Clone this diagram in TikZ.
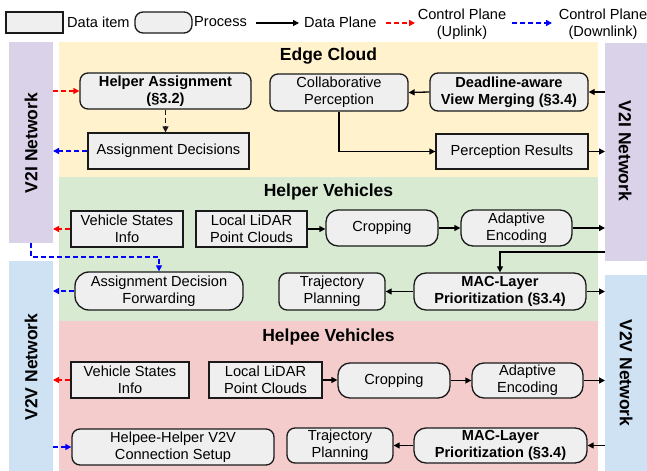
\documentclass[tikz,border=0pt]{standalone}
\usepackage{fontspec}
\setmainfont{Liberation Sans}
\usetikzlibrary{arrows.meta}
\definecolor{bandY}{HTML}{FFF2CC}
\definecolor{bandG}{HTML}{D9EAD3}
\definecolor{bandP}{HTML}{F4CCCC}
\definecolor{stripL}{HTML}{D9D2E9}
\definecolor{stripB}{HTML}{CFE2F3}
\definecolor{nodefill}{HTML}{EFEFEF}
\definecolor{edgec}{HTML}{1A1A1A}
\tikzset{
  base/.style={draw=edgec, line width=1.3bp, fill=nodefill, align=center, inner sep=0pt,
    font=\fontsize{14.6bp}{17bp}\selectfont},
  dbox/.style={base, rectangle},
  pbox/.style={base, rectangle, rounded corners=8bp},
  bproc/.style={pbox, font=\fontsize{14.6bp}{17bp}\selectfont\bfseries},
  txt/.style={inner sep=0pt, align=center, font=\fontsize{14.6bp}{17bp}\selectfont},
  title/.style={inner sep=0pt, font=\fontsize{17.5bp}{20bp}\selectfont\bfseries},
  data/.style={line width=1.3bp, draw=black, -{Triangle[length=6bp,width=6bp]}},
  up/.style={line width=1.3bp, draw=red, dash pattern=on 5bp off 3bp, -{Triangle[length=6bp,width=6bp]}},
  down/.style={line width=1.3bp, draw=blue, dash pattern=on 5bp off 3bp, -{Triangle[length=6bp,width=6bp]}},
  ctrl/.style={line width=1.3bp, draw=edgec, dash pattern=on 5bp off 3bp, -{Triangle[length=6bp,width=6bp]}},
}
\begin{document}
\begin{tikzpicture}[x=1bp,y=-1bp]
\useasboundingbox (0,0) rectangle (647,471);
\fill[white] (0,0) rectangle (647,471);
% bands
\fill[bandY] (59,42) rectangle (598,177);
\fill[bandG] (59,177) rectangle (598,321);
\fill[bandP] (59,321) rectangle (598,471);
% strips
\fill[stripL] (9,42) rectangle (53,243);
\fill[stripB] (9,261) rectangle (53,471);
\fill[stripL] (605,43) rectangle (647,261);
\fill[stripB] (605,275) rectangle (647,471);
\coordinate (lv2iS) at (31,243);
\node[title, rotate=90] (lv2i) at (31,143) {V2I Network};
\node[title, rotate=90] (lv2v) at (31,367) {V2V Network};
\node[title, rotate=-90] (rv2i) at (625,151) {V2I Network};
\node[title, rotate=-90] (rv2v) at (626,373) {V2V Network};
\coordinate (L) at (53,0);
\coordinate (R) at (605,0);

% legend
\node[dbox, minimum width=57bp, minimum height=21bp] (ldata) at (34.5,22.5) {};
\node[txt, anchor=west] (ldatat) at (67,22) {Data item};
\node[pbox, minimum width=57bp, minimum height=21bp] (lproc) at (163.5,22.5) {};
\node[txt, anchor=west] (lproct) at (194,22) {Process};
\coordinate (la1) at (256,23); \coordinate (la2) at (299,23);
\draw[data] (la1) -- (la2);
\node[txt, anchor=west] (ldp) at (304,22) {Data Plane};
\coordinate (lb1) at (386,23); \coordinate (lb2) at (415,23);
\draw[up] (lb1) -- (lb2);
\node[txt] (lup) at (462,24) {Control Plane\\(Uplink)};
\coordinate (lc1) at (512,23); \coordinate (lc2) at (552,23);
\draw[down] (lc1) -- (lc2);
\node[txt] (ldown) at (603,24) {Control Plane\\(Downlink)};

% titles
\node[title] (t1) at (328.5,56) {Edge Cloud};
\node[title] (t2) at (328.5,192) {Helper Vehicles};
\node[title] (t3) at (328.5,337) {Helpee Vehicles};

% edge cloud
\node[bproc, minimum width=171bp, minimum height=36bp] (ha) at (165.5,91) {Helper Assignment\\(\S3.2)};
\node[dbox, minimum width=161bp, minimum height=36bp] (ad) at (168.5,151) {Assignment Decisions};
\node[pbox, minimum width=138bp, minimum height=37bp] (cp) at (339,92.5) {Collaborative\\Perception};
\node[bproc, minimum width=158bp, minimum height=38bp] (dvm) at (509,92) {Deadline-aware\\View Merging (\S3.4)};
\node[dbox, minimum width=152bp, minimum height=35bp] (pr) at (512,151.5) {Perception Results};

\draw[up] (L |- ha.west) -- (ha.west);
\draw[ctrl] (ha.south) -- (ha.south |- ad.north);
\draw[down] (ad.west) -- (L |- ad.west);
\draw[data] (R |- dvm.east) -- (dvm.east);
\draw[data] (dvm.west) -- (cp.east);
\draw[data] (cp.south) |- (pr.west);
\draw[data] (pr.east) -- (R |- pr.east);

% helper vehicles
\node[dbox, minimum width=112bp, minimum height=36bp] (hvsi) at (127,229) {Vehicle States\\Info};
\node[dbox, minimum width=111bp, minimum height=36bp] (hlid) at (251.5,229) {Local LiDAR\\Point Clouds};
\node[pbox, rounded corners=12bp, minimum width=112bp, minimum height=36bp] (hcrop) at (382,228) {Cropping};
\node[pbox, rounded corners=12bp, minimum width=111bp, minimum height=36bp] (henc) at (516.5,228) {Adaptive\\Encoding};
\node[bproc, rounded corners=12bp, minimum width=172bp, minimum height=37bp] (hmac) at (500,291.5) {MAC-Layer\\Prioritization (\S3.4)};
\node[pbox, minimum width=106bp, minimum height=37bp] (htraj) at (332,291.5) {Trajectory\\Planning};
\node[pbox, rounded corners=14bp, minimum width=168bp, minimum height=38bp] (hadf) at (159,291) {Assignment Decision\\Forwarding};

\draw[up] (hvsi.west) -- (L |- hvsi.west);
\draw[data] (hlid.east) -- (hlid.east -| hcrop.west);
\draw[data] (hcrop.east) -- (henc.west);
\draw[data] (henc.east) -- (R |- henc.east);
\coordinate (hin) at (605,252);
\draw[data] (hin) -| (hmac.north);
\draw[data] (hmac.east) -- (R |- hmac.east);
\draw[data] (hmac.west) -- (htraj.east);
\draw[down] (hadf.west) -- (L |- hadf.west);
\coordinate (hbend) at (31,257);
\draw[down] (lv2iS) -- (hbend) -| (hadf.north);

% helpee vehicles
\node[dbox, minimum width=118bp, minimum height=36bp] (pvsi) at (130,380) {Vehicle States\\Info};
\node[dbox, minimum width=113bp, minimum height=36bp] (plid) at (265.5,380) {Local LiDAR\\Point Clouds};
\node[pbox, rounded corners=12bp, minimum width=112bp, minimum height=35bp] (pcrop) at (394,380.5) {Cropping};
\node[pbox, rounded corners=12bp, minimum width=111bp, minimum height=35bp] (penc) at (527.5,380.5) {Adaptive\\Encoding};
\node[bproc, rounded corners=12bp, minimum width=173bp, minimum height=35bp] (pmac) at (500.5,445.5) {MAC-Layer\\Prioritization (\S3.4)};
\node[pbox, minimum width=106bp, minimum height=35bp] (ptraj) at (340,445.5) {Trajectory\\Planning};
\node[pbox, minimum width=202bp, minimum height=36bp] (pconn) at (173,447) {Helpee-Helper V2V\\Connection Setup};

\draw[up] (pvsi.west) -- (L |- pvsi.west);
\draw[data] (plid.east) -- (plid.east -| pcrop.west);
\draw[data] (pcrop.east) -- (penc.west);
\draw[data] (penc.east) -- (R |- penc.east);
\draw[data] (R |- pmac.east) -- (pmac.east);
\draw[data] (pmac.west) -- (ptraj.east);
\draw[down] (L |- pconn.west) -- (pconn.west);
\end{tikzpicture}
\end{document}
